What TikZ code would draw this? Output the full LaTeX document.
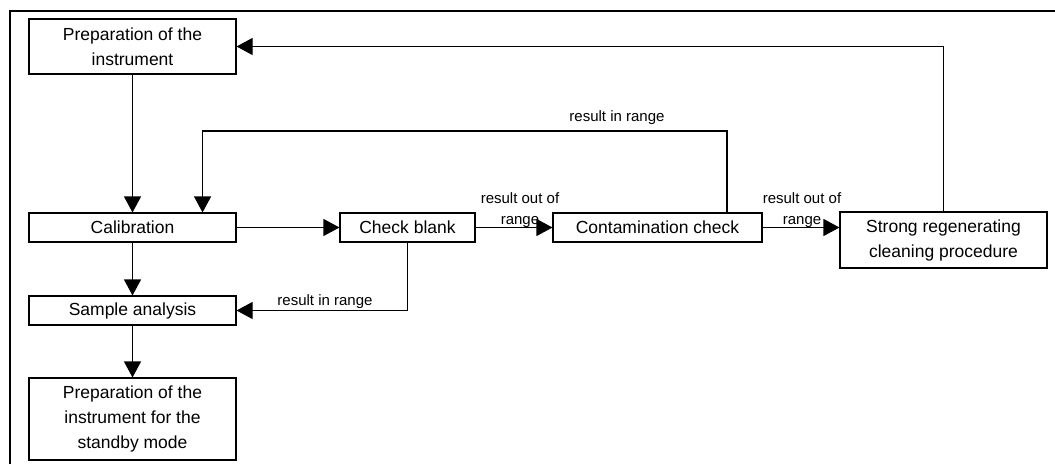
\documentclass[tikz,border=0pt]{standalone}
\usepackage{fontspec}
\setmainfont{Liberation Sans}
\usetikzlibrary{arrows.meta}

\begin{document}
\begin{tikzpicture}[x=1pt, y=-1pt,
  box/.style={draw, line width=1.1pt, inner sep=0pt, align=center, font=\fontsize{17.5}{25}\selectfont, minimum width=207pt, minimum height=29pt},
  lbl/.style={inner sep=0pt, align=center, font=\fontsize{15}{21}\selectfont},
  arr/.style={line width=1.1pt, -{Triangle[length=16pt,width=17pt]}}]
  \useasboundingbox (0,0) rectangle (1055,464);

  % Draw frame
  \draw [line width=2.5pt] (10,464) -- (10,11) -- (1055,11);

  % Draw boxes
  \node [box, minimum height=55pt] (prep) at (132.5,46.5) {Preparation of the\\instrument};
  \node [box] (calib) at (132.5,227.5) {Calibration};
  \node [box] (sample) at (132.5,310.5) {Sample analysis};
  \node [box, minimum height=82pt] (standby) at (132.5,419) {Preparation of the\\instrument for the\\standby mode};
  \node [box, minimum width=135pt] (check) at (407.5,227.5) {Check blank};
  \node [box, minimum width=209pt] (contam) at (657.5,227.5) {Contamination check};
  \node [box, minimum height=56pt] (strong) at (943.5,240) {Strong regenerating\\cleaning procedure};

  % Draw arrows
  \draw [arr] (prep) -- (calib);
  \draw [arr] (calib) -- (sample);
  \draw [arr] (sample) -- (standby);
  \draw [arr] (calib) -- (check);
  \draw [arr] (check) -- (contam);
  \draw [arr] (contam.east) -- (contam.east -| strong.west);
  \draw [arr] (check.south) |- (sample.east);
  \coordinate (loop) at (727,131);
  \draw [arr] (contam.north -| loop) -- (loop) -| ([xshift=-34pt]calib.north east);
  \draw [arr] (strong.north) |- (prep.east);

  % Labels
  \node [lbl] (inrangetop) at (617,118) {result in range};
  \node [lbl] (inrangelow) at (325,302) {result in range};
  \node [lbl] (outrangeone) at (520,210) {result out of\\range};
  \node [lbl] (outrangetwo) at (802,210) {result out of\\range};
\end{tikzpicture}
\end{document}
